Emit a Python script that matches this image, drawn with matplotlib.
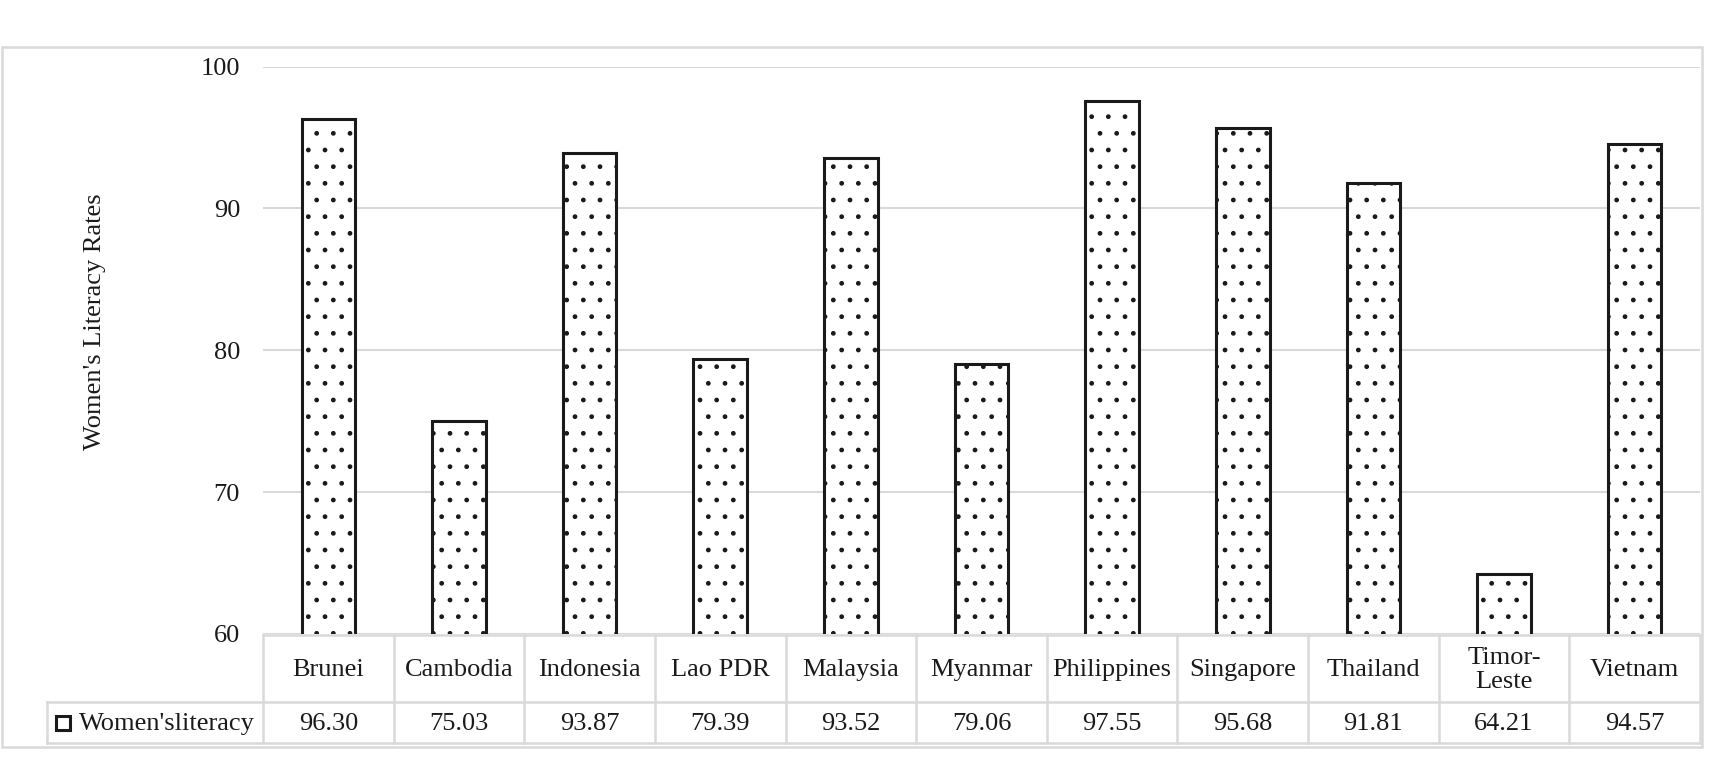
import matplotlib.pyplot as plt
from matplotlib.patches import Rectangle
import matplotlib.transforms as mtransforms

countries = ['Brunei', 'Cambodia', 'Indonesia', 'Lao PDR', 'Malaysia', 'Myanmar',
             'Philippines', 'Singapore', 'Thailand', 'Timor-\nLeste', 'Vietnam']
literacy = [96.30, 75.03, 93.87, 79.39, 93.52, 79.06, 97.55, 95.68, 91.81, 64.21, 94.57]
series_name = "Women'sliteracy"
y_label = "Women's Literacy Rates"
y_ticks = [60, 70, 80, 90, 100]

plt.rcParams['font.family'] = ['Liberation Serif', 'DejaVu Serif']
plt.rcParams['hatch.linewidth'] = 1.0

W, H = 1713, 764
dark = '#1a1a1a'
grey = '#d9d9d9'
fs = 19

fig = plt.figure(figsize=(W / 100, H / 100), dpi=100)
# pixel helpers
def fx(px): return px / W
def fy(py): return 1 - py / H

ax_left, ax_right, ax_top, ax_bot = 263, 1700, 66.5, 634
ax = fig.add_axes([fx(ax_left), fy(ax_bot), fx(ax_right - ax_left), (ax_bot - ax_top) / H])

x = list(range(len(countries)))
ax.bar(x, literacy, width=0.41, color='white', edgecolor=dark, linewidth=2.2,
       hatch='.', zorder=3)

ax.set_xlim(-0.5, len(countries) - 0.5)
ax.set_ylim(60, 100)
ax.set_yticks(y_ticks)
ax.set_yticklabels([str(t) for t in y_ticks], fontsize=fs, color=dark)
ax.tick_params(axis='y', length=0, pad=16.5)
ax.set_xticks([])
ax.grid(axis='y', color=grey, linewidth=1.5, zorder=0)
for s in ax.spines.values():
    s.set_visible(False)

# data table under the plot
trans = mtransforms.blended_transform_factory(ax.transData, ax.transAxes)
col_w = (ax_right - ax_left) / len(countries)
def ay(py): return (ax_bot - py) / (ax_bot - ax_top)
def dx(px): return (px - ax_left) / col_w - 0.5

y_top, y_mid, y_bottom = ay(635), ay(702), ay(743)
x0 = -0.5
x_leg = dx(47)
x_end = len(countries) - 0.5
line_kw = dict(color=grey, linewidth=1.8, transform=trans, clip_on=False, zorder=1)
ax.plot([x0, x_end], [y_top, y_top], **line_kw)
ax.plot([x_leg, x_end], [y_mid, y_mid], **line_kw)
ax.plot([x_leg, x_end], [y_bottom, y_bottom], **line_kw)
for k in range(len(countries) + 1):
    ax.plot([x0 + k, x0 + k], [y_top, y_bottom], **line_kw)
ax.plot([x_leg, x_leg], [y_mid, y_bottom], **line_kw)

for i, (c, v) in enumerate(zip(countries, literacy)):
    ax.text(i, (y_top + y_mid) / 2 - 0.003, c, ha='center', va='center', fontsize=fs,
            color=dark, transform=trans, linespacing=1.1)
    ax.text(i, (y_mid + y_bottom) / 2 - 0.003, f'{v:.2f}', ha='center', va='center',
            fontsize=fs, color=dark, transform=trans)

# legend key in the table
ax.plot([dx(62.5)], [(y_mid + y_bottom) / 2], marker='s', markersize=10,
        markerfacecolor='white', markeredgecolor=dark, markeredgewidth=2.2,
        transform=trans, clip_on=False)
ax.text(dx(79), (y_mid + y_bottom) / 2 - 0.003, series_name, ha='left', va='center',
        fontsize=fs, color=dark, transform=trans)

fig.text(fx(95), fy(322), y_label, rotation=90, ha='center', va='center',
         fontsize=fs, color=dark)

# outer chart border
fig.patches.append(Rectangle((fx(2), fy(747)), fx(1700), (747 - 47) / H,
                             transform=fig.transFigure, fill=False,
                             edgecolor=grey, linewidth=1.8))

fig.savefig('out.png', dpi=100)
